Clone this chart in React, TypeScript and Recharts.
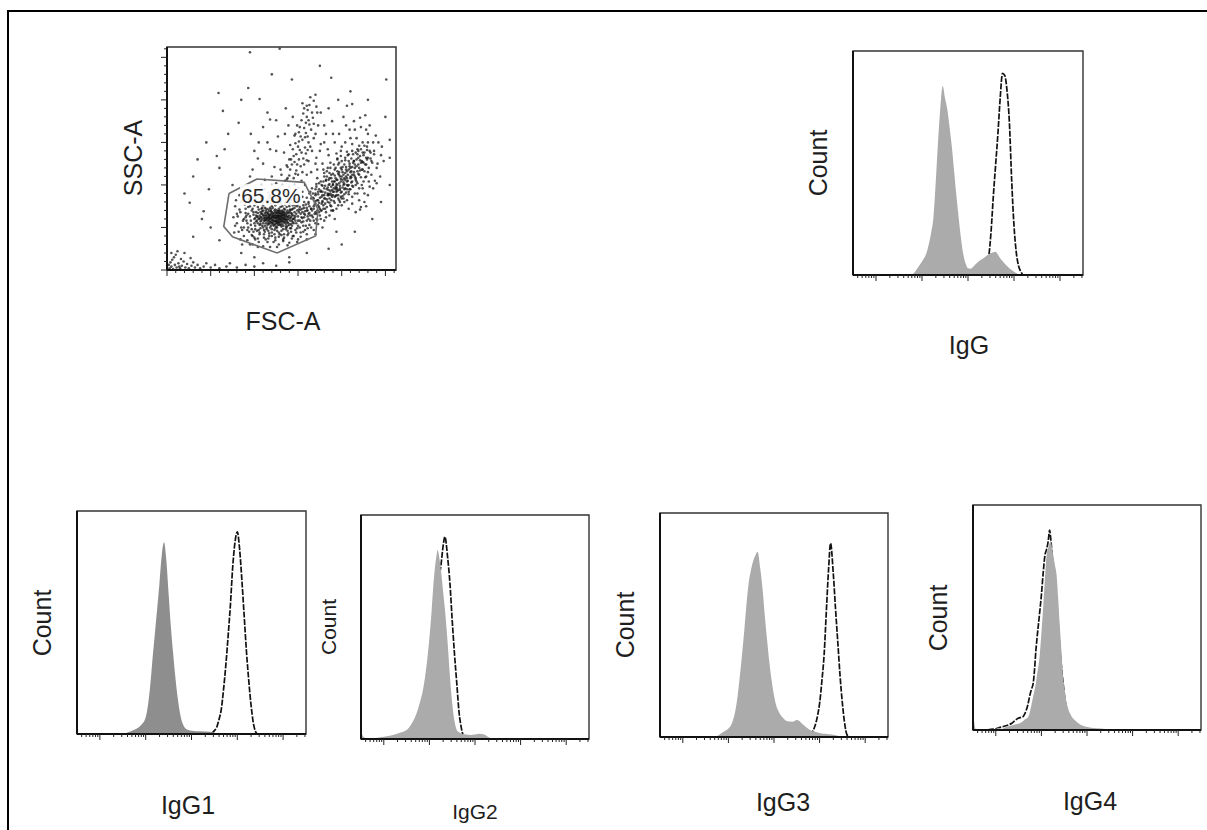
import React from 'react'
import {
  Area,
  ComposedChart,
  ReferenceArea,
  Scatter,
  ScatterChart,
  XAxis,
  YAxis,
} from 'recharts'

const FONT = '"Liberation Sans", Arial, Helvetica, sans-serif'
const INK = '#1e1e1e'

// ---- FSC-A / SSC-A dot plot (values in thousands, 0–262K linear) ----

const debrisEvents: [number, number][] = [
  [3, 2], [5, 4], [7, 1], [9, 6], [4, 9], [11, 3], [13, 8], [6, 12], [15, 2], [8, 15],
  [17, 5], [19, 10], [10, 18], [21, 3], [23, 7], [12, 22], [25, 2], [14, 4], [28, 5], [30, 9],
  [16, 13], [32, 3], [35, 6], [20, 20], [27, 14], [5, 20], [2, 6], [38, 2], [42, 4], [45, 8],
  [50, 3], [55, 6], [60, 2], [68, 4], [72, 8], [80, 3], [90, 6], [100, 4], [110, 8], [125, 5],
  [140, 9],
]

const lymphCore: [number, number][] = [
  [108, 62], [112, 58], [115, 64], [118, 60], [121, 66], [124, 58], [127, 63], [130, 60], [133, 65], [110, 55],
  [114, 68], [117, 54], [120, 62], [123, 70], [126, 55], [129, 67], [132, 57], [135, 62], [138, 59], [111, 61],
  [116, 59], [119, 57], [122, 63], [125, 61], [128, 58], [131, 63], [134, 56], [137, 66], [109, 66], [113, 63],
  [107, 57], [119, 69], [122, 52], [126, 67], [129, 53], [132, 70], [136, 54], [139, 63], [141, 58], [105, 60],
  [110, 70], [117, 65], [121, 59], [124, 64], [127, 60], [130, 56], [133, 61], [140, 68], [115, 57], [118, 64],
  [120, 55], [123, 57], [125, 67], [128, 64], [131, 59], [134, 68], [106, 64], [112, 52], [116, 71], [119, 61],
  [124, 54], [127, 69], [130, 64], [136, 59], [113, 59], [121, 56], [126, 62], [129, 60], [132, 54], [135, 66],
  [138, 56], [142, 62], [108, 58], [114, 61], [117, 61], [122, 67], [125, 58], [128, 55], [131, 67], [134, 60],
]

const lymphDense: [number, number][] = [
  [101, 61], [104, 67], [106, 53], [109, 69], [111, 64], [113, 55], [114, 72], [116, 62], [118, 50], [119, 66],
  [121, 73], [122, 58], [124, 68], [125, 51], [127, 65], [128, 72], [129, 57], [131, 69], [132, 61], [133, 52],
  [135, 71], [136, 64], [137, 57], [139, 67], [140, 53], [141, 61], [143, 66], [144, 56], [103, 58], [105, 71],
  [107, 62], [110, 50], [112, 67], [114, 59], [117, 69], [118, 56], [120, 64], [123, 53], [124, 61], [126, 70],
  [127, 56], [130, 66], [131, 51], [134, 63], [135, 56], [138, 70], [139, 60], [142, 54], [145, 64], [100, 55],
  [102, 64], [106, 60], [108, 66], [111, 58], [113, 70], [115, 53], [117, 63], [119, 52], [120, 68], [122, 61],
  [123, 65], [125, 56], [126, 63], [128, 61], [129, 70], [130, 53], [132, 64], [133, 58], [134, 72], [136, 60],
  [137, 68], [138, 52], [140, 64], [141, 71], [143, 58], [146, 61], [99, 68], [104, 62], [107, 54], [108, 72],
  [110, 64], [112, 61], [115, 67], [116, 55], [118, 73], [121, 54], [123, 62], [124, 71], [127, 53], [128, 67],
  [130, 62], [131, 58], [133, 68], [135, 59], [137, 63], [139, 55], [142, 67], [144, 60], [109, 60], [113, 65],
  [117, 58], [121, 63], [125, 64], [129, 63], [134, 65], [138, 62], [120, 59], [126, 58], [132, 66], [115, 61],
  [119, 71], [128, 69], [124, 49], [111, 47], [136, 48], [105, 47], [141, 49], [116, 46],
]

const lymphHalo: [number, number][] = [
  [88, 50], [91, 58], [93, 66], [96, 53], [97, 70], [99, 45], [100, 76], [102, 57], [103, 63], [105, 80],
  [106, 44], [107, 68], [109, 52], [110, 79], [111, 42], [112, 73], [114, 50], [115, 82], [116, 66], [117, 40],
  [119, 78], [120, 48], [121, 83], [123, 42], [124, 76], [126, 46], [127, 78], [128, 39], [130, 80], [131, 46],
  [132, 75], [134, 42], [135, 80], [136, 51], [137, 74], [139, 43], [140, 77], [142, 49], [143, 71], [145, 55],
  [146, 73], [147, 47], [148, 66], [150, 58], [151, 68], [152, 50], [154, 62], [155, 72], [156, 57], [158, 69],
  [159, 52], [161, 63], [162, 78], [164, 58], [166, 70], [167, 62], [169, 77], [171, 66], [172, 59], [174, 68],
  [95, 75], [98, 40], [104, 37], [113, 36], [122, 33], [133, 36], [144, 40], [153, 44], [161, 49], [90, 62],
  [92, 47], [94, 79], [101, 83], [108, 87], [117, 85], [129, 87], [139, 84], [149, 82], [157, 80], [165, 84],
  [170, 90], [163, 90], [155, 86], [146, 90], [137, 89], [101, 48], [143, 64], [147, 58], [149, 75], [153, 71],
  [157, 66], [160, 73], [163, 67], [168, 72], [170, 81], [173, 76], [175, 64], [176, 70], [178, 88], [174, 95],
  [167, 85], [171, 101], [166, 96],
]

const lymphRing: [number, number][] = [
  [96, 58], [99, 65], [101, 52], [98, 72], [103, 46], [100, 60], [102, 68], [104, 74], [97, 48], [95, 63],
  [145, 60], [148, 55], [146, 68], [150, 63], [152, 58], [144, 72], [149, 49], [153, 66], [147, 76], [155, 61],
  [143, 52], [151, 71], [110, 76], [115, 78], [120, 75], [125, 79], [130, 74], [135, 77], [140, 75], [118, 81],
  [127, 83], [112, 45], [117, 43], [123, 47], [128, 44], [133, 48], [138, 46], [120, 40], [131, 41], [107, 49],
  [142, 45], [114, 48], [126, 50], [137, 50], [104, 55], [109, 73], [141, 70], [145, 80], [102, 78], [150, 77],
  [92, 55], [90, 67], [93, 74], [88, 60], [156, 52], [158, 65], [157, 73], [139, 80], [107, 80], [116, 37],
  [124, 35], [134, 38],
]

const lymphOuter: [number, number][] = [
  [80, 55], [84, 68], [78, 75], [82, 45], [86, 82], [76, 62], [85, 50], [90, 88], [95, 92], [100, 86],
  [88, 40], [92, 35], [98, 30], [105, 33], [110, 28], [118, 27], [128, 30], [140, 32], [150, 36], [160, 42],
  [165, 50], [162, 60], [168, 58], [163, 75], [160, 85], [155, 92], [148, 88], [112, 95], [106, 90], [96, 82],
  [83, 88], [79, 82], [86, 30], [100, 38], [145, 40], [156, 45], [135, 92], [125, 95], [118, 88], [94, 45],
  [78, 52], [81, 63], [83, 71], [86, 47], [87, 58], [89, 77], [91, 64], [93, 50], [94, 83], [97, 41],
  [99, 79], [101, 36], [103, 88], [106, 42], [108, 84], [111, 38], [113, 81], [115, 33], [118, 86], [120, 44],
  [122, 79], [124, 38], [127, 85], [129, 42], [131, 78], [133, 34], [136, 83], [138, 41], [141, 79], [143, 37],
  [146, 84], [148, 44], [151, 80], [153, 39], [156, 76], [158, 47], [161, 70], [163, 53], [166, 64], [168, 47],
  [171, 60], [173, 54], [160, 58], [155, 68], [150, 52], [152, 74], [147, 63], [149, 70], [154, 56], [157, 62],
  [159, 77], [162, 66], [165, 72], [144, 76], [142, 82], [90, 72], [85, 80], [80, 66], [77, 44], [84, 36],
  [95, 30], [104, 27], [126, 27], [138, 29], [149, 33], [160, 36], [170, 42], [88, 92], [102, 95], [116, 91],
]

const myeloidCluster: [number, number][] = [
  [165, 72], [170, 78], [172, 70], [175, 85], [178, 80], [176, 92], [180, 88], [183, 95], [181, 78], [185, 100],
  [187, 90], [189, 104], [186, 84], [191, 96], [193, 108], [190, 88], [195, 100], [197, 112], [194, 92], [199, 104],
  [201, 115], [198, 96], [203, 108], [205, 118], [202, 100], [207, 112], [209, 122], [206, 104], [211, 116], [213, 126],
  [210, 108], [215, 120], [217, 130], [214, 112], [219, 124], [221, 134], [218, 116], [223, 128], [226, 138], [168, 84],
  [173, 92], [177, 100], [182, 106], [188, 112], [192, 118], [196, 124], [200, 128], [204, 132], [208, 136], [212, 140],
  [174, 74], [179, 72], [184, 80], [188, 82], [192, 86], [196, 88], [200, 92], [204, 96], [208, 100], [212, 104],
  [216, 108], [220, 112], [224, 118], [228, 124], [230, 132], [162, 80], [167, 90], [171, 98], [169, 66], [180, 96],
  [184, 90], [186, 108], [190, 100], [194, 106], [198, 110], [195, 116], [199, 120], [203, 124], [189, 94], [193, 98],
  [197, 102], [201, 106], [205, 110], [185, 88], [181, 84], [177, 78], [173, 82], [185, 94], [188, 98], [191, 92],
  [194, 96], [192, 104], [196, 94], [202, 112], [206, 116], [210, 120], [214, 128], [218, 136], [222, 142], [226, 146],
  [232, 140], [234, 128], [228, 110], [225, 104], [176, 104], [172, 108], [180, 114], [184, 120], [216, 100], [220, 96],
  [208, 92], [164, 64], [160, 70], [236, 150], [230, 150], [222, 126], [187, 76],
]

const myeloidDense: [number, number][] = [
  [174, 79], [177, 86], [179, 76], [181, 91], [183, 83], [184, 97], [186, 79], [187, 93], [189, 86], [190, 101],
  [191, 81], [193, 95], [194, 88], [195, 106], [196, 84], [198, 99], [199, 91], [200, 110], [201, 87], [202, 103],
  [203, 95], [204, 114], [205, 91], [206, 108], [207, 99], [208, 118], [209, 95], [210, 110], [211, 103], [212, 121],
  [213, 98], [214, 115], [176, 93], [178, 99], [180, 84], [182, 105], [185, 89], [188, 108], [190, 92], [192, 111],
  [194, 97], [197, 115], [198, 94], [200, 118], [203, 101], [205, 121], [207, 105], [209, 125], [211, 109], [214, 128],
  [216, 106], [217, 122], [219, 113], [221, 129], [223, 118], [225, 135], [227, 124], [229, 141], [172, 82], [173, 89],
  [175, 72], [178, 81], [181, 72], [184, 88], [186, 101], [188, 75], [191, 104], [193, 87], [195, 93], [197, 82],
  [199, 107], [201, 97], [202, 84], [204, 106], [206, 95], [208, 89], [210, 115], [212, 99], [215, 110], [218, 102],
  [220, 120], [222, 109], [224, 127], [226, 116], [228, 132], [231, 120], [233, 138], [235, 126], [186, 114], [183, 110],
  [179, 104], [193, 120], [197, 126], [204, 129], [213, 136], [218, 142], [190, 70], [196, 76], [203, 80], [170, 88],
  [168, 75],
]

const myeloidSpread: [number, number][] = [
  [170, 95], [174, 102], [178, 92], [181, 99], [183, 74], [185, 106], [188, 88], [190, 113], [192, 79], [194, 101],
  [196, 113], [199, 86], [201, 121], [203, 89], [206, 100], [208, 128], [210, 95], [212, 112], [215, 124], [217, 104],
  [219, 132], [221, 117], [223, 100], [225, 126], [227, 109], [180, 110], [183, 116], [187, 120], [191, 124], [195, 131],
  [199, 134], [206, 139], [211, 131], [216, 138], [220, 146], [224, 138], [229, 130], [233, 131], [237, 136], [230, 115],
  [177, 70], [182, 68], [188, 70], [194, 72], [200, 76], [206, 82], [212, 86], [218, 90], [224, 96], [231, 104],
]

const upperArm: [number, number][] = [
  [145, 108], [150, 112], [141, 118], [153, 122], [146, 127], [156, 131], [148, 136], [152, 141], [158, 144], [147, 149],
  [155, 153], [161, 157], [151, 162], [157, 167], [163, 171], [154, 176], [160, 180], [166, 185], [157, 190], [163, 194],
  [168, 199], [140, 111], [148, 117], [143, 124], [151, 130], [145, 134], [159, 137], [150, 145], [162, 150], [153, 157],
  [159, 161], [165, 165], [149, 170], [162, 176], [156, 184], [167, 179], [161, 188], [171, 192], [164, 203], [137, 106],
  [155, 115], [149, 124], [157, 124], [142, 130], [154, 138], [161, 141], [144, 142], [158, 156], [152, 168], [168, 172],
  [146, 158], [155, 196], [170, 206], [172, 185], [159, 173], [151, 151], [164, 145], [138, 121], [147, 113], [160, 129],
]

const haloEvents: [number, number][] = [
  [120, 110], [130, 118], [110, 125], [135, 105], [140, 130], [125, 140], [115, 150], [170, 125], [175, 140], [180, 150],
  [185, 135], [190, 160], [200, 145], [210, 155], [195, 130], [240, 120], [238, 105], [245, 135], [232, 98], [226, 90],
  [205, 170], [215, 165], [180, 170], [170, 160], [135, 160], [100, 140], [95, 110], [108, 100], [165, 115], [172, 118],
  [178, 125], [230, 160], [242, 150], [215, 90], [220, 82], [212, 78], [198, 80], [176, 60], [182, 62], [170, 55],
  [178, 50], [190, 70], [200, 84], [140, 98], [132, 100], [125, 102], [98, 118], [104, 131], [112, 106], [118, 142],
  [123, 121], [127, 157], [131, 112], [134, 138], [137, 123], [139, 170], [141, 147], [128, 96], [120, 100], [105, 150],
  [110, 168], [96, 160], [115, 185], [125, 176], [136, 190], [144, 180], [147, 160], [162, 128], [166, 140], [168, 155],
  [171, 132], [173, 170], [176, 148], [179, 118], [182, 160], [184, 142], [187, 126], [189, 175], [192, 150], [194, 137],
  [197, 160], [199, 140], [202, 180], [204, 150], [207, 135], [209, 165], [212, 148], [214, 175], [217, 155], [219, 140],
  [222, 168], [224, 150], [227, 182], [229, 145], [232, 170], [234, 112], [237, 140], [239, 158], [241, 125], [244, 110],
  [246, 145], [248, 128], [236, 96], [230, 88], [226, 80], [222, 74], [216, 68], [208, 72], [180, 58], [186, 64],
  [192, 60], [170, 68], [164, 92], [158, 100], [150, 96], [146, 100], [138, 108], [160, 112], [154, 105], [185, 190],
  [196, 200], [176, 185], [212, 195],
]

const sparseEvents: [number, number][] = [
  [59, 208], [93, 214], [143, 224], [188, 226], [251, 224], [106, 201], [64, 187], [82, 173], [57, 134], [66, 142],
  [26, 79], [42, 69], [255, 153], [255, 132], [240, 102], [228, 75], [194, 45], [221, 71], [30, 39], [95, 256],
  [129, 260], [160, 193], [118, 177], [221, 179], [206, 193], [228, 165], [60, 120], [75, 100], [48, 95], [70, 160],
  [45, 150], [210, 210], [230, 200], [250, 180], [255, 100], [245, 80], [235, 60], [215, 45], [200, 30], [185, 25],
  [160, 20], [140, 15], [100, 15], [85, 20], [60, 35], [50, 50], [40, 60], [20, 90], [30, 110], [35, 130],
  [85, 200], [120, 230], [175, 240],
]

// lymphocyte gate vertices
const gateVertices: [number, number][] = [
  [71, 90], [65, 51], [75, 39], [126, 20], [170, 40], [173, 71], [157, 103], [103, 107],
]
const gatePercent = 65.8
const gateLabelAt: [number, number] = [119, 88]

const scatterMax = 262.144
const scatterTicks = Array.from({ length: 27 }, (_, i) => i * 10)

// ---- histogram panels (x in decades, y as % of mode) ----

const iggX = [
  -0.5, 0.6, 0.8, 0.9, 1.0, 1.1, 1.15, 1.2, 1.25, 1.3, 1.35, 1.4, 1.45, 1.5, 1.55, 1.6,
  1.65, 1.7, 1.75, 1.8, 1.85, 1.9, 1.95, 2.0, 2.05, 2.1, 2.2, 2.3, 2.4, 2.45, 2.5, 2.55,
  2.6, 2.65, 2.7, 2.75, 2.8, 2.85, 2.9, 2.95, 3.0, 3.05, 3.1, 3.15, 3.2, 4.5,
]
const iggControl = [
  0, 0, 0.5, 3, 6, 10, 14, 19, 26, 42, 60, 75, 84.4, 79, 74, 66,
  57, 46, 35, 25, 16, 9, 5, 3, 2.8, 3.5, 5.5, 7, 8.5, 9.3, 9.8, 10.2,
  10.4, 9.2, 7.5, 6.2, 5, 4, 3, 2.2, 1.5, 0.9, 0.3, 0, 0, 0,
]
const iggStained = [
  0, 0, 0, 0, 0, 0, 0, 0, 0, 0, 0, 0, 0, 0, 0, 0,
  0, 0, 0, 0, 0, 0, 0, 0, 0, 0, 0, 1, 4, 8, 19, 35,
  49, 63, 79, 90, 89, 82, 68, 42, 22, 10, 4, 1.5, 0, 0,
]

const igg1X = [
  -0.5, 0.5, 0.6, 0.7, 0.8, 0.9, 1.0, 1.05, 1.1, 1.15, 1.2, 1.25, 1.3, 1.35, 1.4, 1.45,
  1.5, 1.55, 1.6, 1.65, 1.7, 1.75, 1.8, 1.9, 2.0, 2.2, 2.4, 2.5, 2.55, 2.6, 2.65, 2.7,
  2.75, 2.8, 2.85, 2.9, 2.95, 3.0, 3.05, 3.1, 3.15, 3.2, 3.25, 3.3, 3.35, 3.4, 3.45, 4.5,
]
const igg1Control = [
  0, 0, 0.7, 1.5, 2.3, 4, 7.5, 13, 22, 34, 45, 56, 67.5, 80, 86, 78,
  63, 48, 36, 25, 16, 9.3, 5, 2, 1.5, 1.2, 1, 0.6, 0.3, 0, 0, 0,
  0, 0, 0, 0, 0, 0, 0, 0, 0, 0, 0, 0, 0, 0, 0, 0,
]
const igg1Stained = [
  0, 0, 0, 0, 0, 0, 0, 0, 0, 0, 0, 0, 0, 0, 0, 0,
  0, 0, 0, 0, 0, 0, 0, 0, 0, 0, 0, 1.5, 3, 6.5, 11, 20,
  31, 44, 58, 75, 86, 90.7, 83, 69, 53, 37, 24, 13, 5, 1, 0, 0,
]

const igg2X = [
  -0.5, -0.45, -0.4, -0.2, 0, 0.2, 0.35, 0.5, 0.6, 0.7, 0.8, 0.85, 0.9, 0.95, 1.0, 1.05,
  1.1, 1.15, 1.18, 1.2, 1.25, 1.3, 1.34, 1.4, 1.45, 1.5, 1.55, 1.6, 1.65, 1.7, 1.75, 1.8,
  1.9, 2.0, 2.1, 2.2, 2.3, 2.4, 4.5,
]
const igg2Control = [
  4, 1, 0.5, 0.5, 1, 1.8, 2.8, 4, 6.5, 10.5, 17, 21, 27, 35, 45, 57.6,
  72, 81, 84.4, 83, 76, 66, 58, 43, 28, 16, 8, 4, 3, 2.5, 2.2, 2,
  1.8, 2, 2.3, 2, 0.8, 0, 0,
]
const igg2Stained = [
  0, 0, 0, 0, 0, 0, 0, 0, 3, 6, 10, 14, 18, 24, 30, 40,
  52, 62, 68, 71, 77, 86, 90.3, 81, 69.6, 53, 38, 25, 12, 5, 1, 0,
  0, 0, 0, 0, 0, 0, 0,
]

const igg3X = [
  -0.5, 0.7, 0.85, 1.0, 1.05, 1.1, 1.15, 1.2, 1.25, 1.3, 1.35, 1.4, 1.45, 1.5, 1.55, 1.6,
  1.64, 1.7, 1.75, 1.8, 1.85, 1.9, 1.95, 2.0, 2.05, 2.1, 2.2, 2.3, 2.4, 2.5, 2.55, 2.6,
  2.7, 2.8, 2.85, 2.9, 2.95, 3.0, 3.05, 3.1, 3.15, 3.2, 3.24, 3.3, 3.35, 3.4, 3.45, 3.5,
  3.55, 3.6, 3.65, 4.5,
]
const igg3Control = [
  0, 0, 1.8, 3.8, 5, 7.5, 11.5, 18, 27, 37, 48, 60, 69.5, 75, 79, 81.5,
  82.7, 75, 66, 53.7, 43, 33, 25, 18.5, 14, 11.5, 8.5, 7, 6.8, 7.6, 7.2, 6.2,
  4.5, 3, 2.6, 2.3, 2, 1.8, 1.6, 1.4, 1.3, 1.2, 1.1, 1, 0.8, 0.6, 0.4, 0.2,
  0, 0, 0, 0,
]
const igg3Stained = [
  0, 0, 0, 0, 0, 0, 0, 0, 0, 0, 0, 0, 0, 0, 0, 0,
  0, 0, 0, 0, 0, 0, 0, 0, 0, 0, 0, 0, 0, 0, 0, 0,
  0, 1, 2.5, 5, 9, 15, 25, 37, 57, 76, 86.5, 73, 57, 42, 27, 15,
  6, 1, 0, 0,
]

const igg4X = [
  -0.5, -0.47, -0.44, -0.3, 0, 0.06, 0.12, 0.24, 0.35, 0.4, 0.49, 0.53, 0.6, 0.64, 0.7, 0.74,
  0.78, 0.82, 0.85, 0.88, 0.9, 0.96, 1.0, 1.04, 1.08, 1.11, 1.15, 1.18, 1.2, 1.25, 1.3, 1.33,
  1.37, 1.4, 1.44, 1.47, 1.52, 1.58, 1.65, 1.73, 1.85, 1.98, 2.2, 2.4, 2.6, 4.5,
]
const igg4Control = [
  10, 3, 0.5, 0.3, 0.5, 1, 0.5, 1.5, 2, 2.3, 2.8, 3, 4, 4.8, 5.5, 7.5,
  11, 15, 17.8, 21, 24, 32.6, 43, 54.8, 68, 77, 81, 83, 84, 79, 73, 69.6,
  58, 47.4, 35, 25, 16, 10, 6.5, 4.4, 2.5, 1.5, 0.8, 0.5, 0, 0,
]
const igg4Stained = [
  0, 0, 0, 0, 0.5, 1, 1.3, 2, 3, 3.8, 5.2, 5.5, 6, 7.4, 11, 14.8,
  18, 20.7, 27, 35.6, 40, 51.8, 60, 70, 78, 80, 84, 88.9, 86, 74, 62, 56,
  46, 38, 28, 22, 13, 7, 3.5, 1.8, 0.8, 0.3, 0, 0, 0, 0,
]

const histDomain: [number, number] = [-0.5, 4.5]
const histTicks = [-1, 0, 1, 2, 3, 4]
  .flatMap((d) => [1, 2, 3, 4, 5, 6, 7, 8, 9].map((k) => d + Math.log10(k)))
  .filter((v) => v >= histDomain[0] && v <= histDomain[1])

// ---- tick marks drawn outward from the axis line ----

function BottomMark(props: any) {
  const { x, y, payload, majorTest } = props
  const len = majorTest(payload.value) ? 6 : 3
  return <line x1={x} x2={x} y1={y} y2={y + len} stroke="#222" strokeWidth={1} />
}

function LeftMark(props: any) {
  const { x, y, payload, majorTest } = props
  const len = majorTest(payload.value) ? 6 : 3
  return <line x1={x - len} x2={x} y1={y} y2={y} stroke="#222" strokeWidth={1} />
}

const isFifty = (v: number) => v % 50 === 0
const isDecade = (v: number) => Math.abs(v - Math.round(v)) < 1e-9 && v >= 0

const toPoints = (list: [number, number][]) => list.map(([x, y]) => ({ x, y }))

const eventDot = (p: any) => (
  <circle cx={p.cx} cy={p.cy} r={1.3} fill="#111" fillOpacity={0.72} />
)

const noMark = () => <g />

const gateLabel = (p: any) => (
  <g>
    <rect x={p.cx - 31} y={p.cy - 11} width={62} height={21} fill="#ffffff" fillOpacity={0.9} />
    <text
      x={p.cx}
      y={p.cy}
      textAnchor="middle"
      dominantBaseline="central"
      fontFamily={FONT}
      fontSize={21}
      fill="#2a2a2a"
    >
      {`${gatePercent}%`}
    </text>
  </g>
)

const PAD = 10

function DotPlot({ left, top, width, height }: { left: number; top: number; width: number; height: number }) {
  const gate = [...gateVertices, gateVertices[0]]
  const populations = [
    sparseEvents, debrisEvents, haloEvents, upperArm, myeloidCluster, myeloidDense, myeloidSpread,
    lymphOuter, lymphHalo, lymphRing, lymphDense, lymphCore,
  ]
  return (
    <div style={{ position: 'absolute', left: left - PAD, top: top - PAD }}>
      <ScatterChart width={width + PAD * 2} height={height + PAD * 2} margin={{ top: PAD, right: PAD, bottom: 0, left: 0 }}>
        <XAxis
          dataKey="x"
          type="number"
          domain={[0, scatterMax]}
          ticks={scatterTicks}
          interval={0}
          height={PAD}
          tickSize={0}
          tickMargin={0}
          tickLine={false}
          tick={(p: any) => <BottomMark {...p} majorTest={isFifty} />}
          axisLine={{ stroke: '#111', strokeWidth: 2 }}
          allowDataOverflow
        />
        <YAxis
          dataKey="y"
          type="number"
          domain={[0, scatterMax]}
          ticks={scatterTicks}
          interval={0}
          width={PAD}
          tickSize={0}
          tickMargin={0}
          tickLine={false}
          tick={(p: any) => <LeftMark {...p} majorTest={isFifty} />}
          axisLine={{ stroke: '#111', strokeWidth: 2 }}
          allowDataOverflow
        />
        <ReferenceArea x1={0} x2={scatterMax} y1={0} y2={scatterMax} fill="none" stroke="#333" strokeWidth={1.5} />
        {populations.map((pop, i) => (
          <Scatter key={i} data={toPoints(pop)} shape={eventDot} isAnimationActive={false} />
        ))}
        <Scatter
          data={toPoints(gate)}
          line={{ stroke: '#6e6e6e', strokeWidth: 1.6 }}
          lineType="joint"
          shape={noMark}
          isAnimationActive={false}
        />
        <Scatter data={toPoints([gateLabelAt])} shape={gateLabel} isAnimationActive={false} />
      </ScatterChart>
    </div>
  )
}

type HistogramProps = {
  left: number
  top: number
  width: number
  height: number
  xs: number[]
  control: number[]
  stained: number[]
  color: string
}

function Histogram({ left, top, width, height, xs, control, stained, color }: HistogramProps) {
  const rows = xs.map((x, i) => ({ x, control: control[i], stained: stained[i] }))
  return (
    <div style={{ position: 'absolute', left: left - PAD, top: top - PAD }}>
      <ComposedChart
        width={width + PAD * 2}
        height={height + PAD * 2}
        data={rows}
        margin={{ top: PAD, right: PAD, bottom: 0, left: 0 }}
      >
        <XAxis
          dataKey="x"
          type="number"
          domain={histDomain}
          ticks={histTicks}
          interval={0}
          height={PAD}
          tickSize={0}
          tickMargin={0}
          tickLine={false}
          tick={(p: any) => <BottomMark {...p} majorTest={isDecade} />}
          axisLine={{ stroke: '#111', strokeWidth: 2 }}
          allowDataOverflow
        />
        <YAxis
          type="number"
          domain={[0, 100]}
          width={PAD}
          tick={false}
          tickLine={false}
          axisLine={{ stroke: '#111', strokeWidth: 2 }}
          allowDataOverflow
        />
        <ReferenceArea x1={histDomain[0]} x2={histDomain[1]} y1={0} y2={100} fill="none" stroke="#333" strokeWidth={1.4} />
        <Area
          type="monotone"
          dataKey="stained"
          stroke="#111"
          strokeWidth={1.7}
          strokeDasharray="6 1.5"
          fill="none"
          dot={false}
          activeDot={false}
          isAnimationActive={false}
        />
        <Area
          type="monotone"
          dataKey="control"
          stroke="none"
          fill={color}
          fillOpacity={1}
          dot={false}
          activeDot={false}
          isAnimationActive={false}
        />
      </ComposedChart>
    </div>
  )
}

function Caption({ x, y, text, size = 25, vertical = false }: { x: number; y: number; text: string; size?: number; vertical?: boolean }) {
  return (
    <div
      style={{
        position: 'absolute',
        left: x,
        top: y,
        transform: `translate(-50%, -50%)${vertical ? ' rotate(-90deg)' : ''}`,
        fontFamily: FONT,
        fontSize: size,
        lineHeight: 1,
        whiteSpace: 'nowrap',
        color: INK,
      }}
    >
      {text}
    </div>
  )
}

export default function App() {
  return (
    <div
      style={{
        position: 'absolute',
        left: 0,
        top: 0,
        width: 1207,
        height: 830,
        overflow: 'hidden',
        background: '#ffffff',
      }}
    >
      {/* figure frame: top and left rules */}
      <div style={{ position: 'absolute', left: 7, top: 10, width: 1200, height: 2, background: '#000' }} />
      <div style={{ position: 'absolute', left: 7, top: 10, width: 2, height: 820, background: '#000' }} />

      <DotPlot left={167} top={47} width={229} height={223} />
      <Caption x={133} y={158} text="SSC-A" vertical />
      <Caption x={283} y={321} text="FSC-A" />

      <Histogram left={853} top={51} width={230} height={224} xs={iggX} control={iggControl} stained={iggStained} color="#ababab" />
      <Caption x={818} y={163} text="Count" vertical />
      <Caption x={969} y={345} text="IgG" />

      <Histogram left={77} top={511} width={229} height={223} xs={igg1X} control={igg1Control} stained={igg1Stained} color="#8e8e8e" />
      <Caption x={42} y={623} text="Count" vertical />
      <Caption x={188} y={805} text="IgG1" />

      <Histogram left={361} top={515} width={228} height={224} xs={igg2X} control={igg2Control} stained={igg2Stained} color="#ababab" />
      <Caption x={328} y={627} text="Count" size={21} vertical />
      <Caption x={475} y={811} text="IgG2" size={21} />

      <Histogram left={660} top={513} width={228} height={224} xs={igg3X} control={igg3Control} stained={igg3Stained} color="#ababab" />
      <Caption x={625} y={625} text="Count" vertical />
      <Caption x={783} y={802} text="IgG3" />

      <Histogram left={973} top={505} width={228} height={225} xs={igg4X} control={igg4Control} stained={igg4Stained} color="#ababab" />
      <Caption x={938} y={618} text="Count" vertical />
      <Caption x={1090} y={801} text="IgG4" />
    </div>
  )
}
